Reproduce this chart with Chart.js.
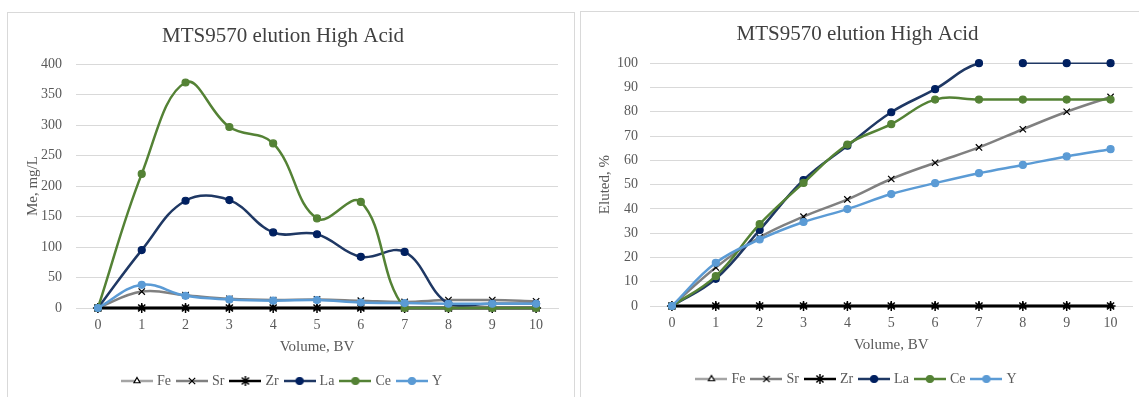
<!DOCTYPE html>
<html>
<head>
<meta charset="utf-8">
<script src="https://cdn.jsdelivr.net/npm/chart.js@4.4.1/dist/chart.umd.min.js"></script>
<style>
  body { margin: 0; background: #fff; width: 1139px; height: 397px; overflow: hidden; position: relative; }
  .panel { position: absolute; border: 1px solid #d9d9d9; background: #fff; }
  #left { left: 7px; top: 12px; width: 566px; height: 400px; }
  #right { left: 580px; top: 11px; width: 600px; height: 400px; }
  canvas { display: block; }
</style>
</head>
<body>
<div class="panel" id="left"><canvas id="conc" width="566" height="390"></canvas></div>
<div class="panel" id="right"><canvas id="eluted" width="558" height="389"></canvas></div>
<script>
const volumeBV = ["0", "1", "2", "3", "4", "5", "6", "7", "8", "9", "10"];
const metals = ["Fe", "Sr", "Zr", "La", "Ce", "Y"];

// Me, mg/L
const concFe = [0, 0, 0, 0, 0, 0, 0, 0, 0, 0, 0];
const concSr = [0, 27, 21, 15, 13, 14, 12, 10, 13, 13, 11];
const concZr = [0, 0, 0, 0, 0, 0, 0, 0, 0, 0, 0];
const concLa = [0, 95, 176, 177, 124, 121, 84, 92, 7, 7, 7];
const concCe = [0, 220, 370, 297, 270, 147, 174, 0, 0, 0, 0];
const concY = [0, 38, 20, 14, 12, 13, 9, 8, 7, 7, 7];

// Eluted, %
const elutedFe = [0, 0, 0, 0, 0, 0, 0, 0, 0, 0, 0];
const elutedSr = [0, 15.9, 28.3, 36.8, 43.9, 52.3, 59, 65.3, 72.8, 80, 86.1];
const elutedZr = [0, 0, 0, 0, 0, 0, 0, 0, 0, 0, 0];
const elutedLa = [0, 11.2, 31.3, 51.9, 66, 79.8, 89.3, 100, 100, 100, 100];
const elutedCe = [0, 12.3, 33.7, 50.7, 66.5, 74.9, 85, 85, 85, 85, 85];
const elutedY = [0, 17.8, 27.4, 34.6, 39.9, 46.1, 50.6, 54.7, 58.1, 61.6, 64.6];

const concTicks = { min: 0, max: 400, step: 50 };
const elutedTicks = { min: 0, max: 100, step: 10 };

const FONT = "'Liberation Serif', 'Times New Roman', serif";
const TEXT = "#595959";

const looks = {
  Fe: { line: "#a5a5a5", style: "triangle", edge: "#000000", fill: "#ffffff", r: 3.5, w: 1.2 },
  Sr: { line: "#808080", style: "crossRot", edge: "#000000", fill: "#000000", r: 4.5, w: 1.2 },
  Zr: { line: "#000000", style: "star", edge: "#000000", fill: "#000000", r: 5, w: 1.5 },
  La: { line: "#1f3864", style: "circle", edge: "#002060", fill: "#002060", r: 3.5, w: 1.2 },
  Ce: { line: "#548235", style: "circle", edge: "#548235", fill: "#548235", r: 3.5, w: 1.2 },
  Y:  { line: "#5b9bd5", style: "circle", edge: "#5b9bd5", fill: "#5b9bd5", r: 3.5, w: 1.2 }
};

function legendIcon(look) {
  const c = document.createElement("canvas");
  c.width = 32; c.height = 12;
  const ctx = c.getContext("2d");
  ctx.strokeStyle = look.line;
  ctx.lineWidth = 2.5;
  ctx.beginPath(); ctx.moveTo(0, 6); ctx.lineTo(32, 6); ctx.stroke();
  ctx.strokeStyle = look.edge;
  ctx.fillStyle = look.fill;
  ctx.lineWidth = look.w;
  Chart.helpers.drawPoint(ctx, { pointStyle: look.style, radius: look.r, rotation: 0, borderWidth: look.w }, 16, 6);
  return c;
}

function makeDatasets(values, laSegment) {
  return metals.map((name, i) => {
    const look = looks[name];
    const ds = {
      label: name,
      data: values[i],
      borderColor: look.line,
      backgroundColor: look.fill,
      borderWidth: name === "Zr" ? 3 : 2.5,
      pointStyle: look.style,
      pointRadius: look.r,
      pointHoverRadius: look.r,
      pointBorderColor: look.edge,
      pointBackgroundColor: look.fill,
      pointBorderWidth: look.w,
      tension: 0.4,
      clip: 8,
      order: metals.length - i,
      icon: legendIcon(look)
    };
    if (name === "La" && laSegment) ds.segment = laSegment;
    return ds;
  });
}

function makeOptions(yTitle, ticks, dims) {
  return {
    responsive: false,
    animation: false,
    layout: { padding: { left: 0, right: dims.padRight, top: 0, bottom: 5 } },
    plugins: {
      tooltip: { enabled: false },
      title: {
        display: true,
        text: "MTS9570 elution High Acid",
        color: "#404040",
        font: { family: FONT, size: 21, weight: "normal" },
        padding: { top: dims.titleTop, bottom: dims.titleBottom }
      },
      legend: {
        position: "bottom",
        labels: {
          usePointStyle: true,
          pointStyleWidth: 26,
          boxHeight: 12,
          padding: 8,
          color: TEXT,
          font: { family: FONT, size: 14 },
          generateLabels: (chart) => chart.data.datasets.map((ds, i) => ({
            text: ds.label,
            pointStyle: ds.icon,
            datasetIndex: i,
            fontColor: TEXT,
            hidden: false,
            lineWidth: 0,
            strokeStyle: "transparent",
            fillStyle: "transparent"
          }))
        }
      }
    },
    scales: {
      x: {
        offset: true,
        grid: { display: false, drawTicks: false },
        border: { color: "#d9d9d9" },
        ticks: { color: TEXT, padding: 9, font: { family: FONT, size: 14 } },
        title: { display: true, text: "Volume, BV", color: TEXT, font: { family: FONT, size: 15 }, padding: { top: 0, bottom: 10 } },
        afterFit: (s) => { s.height = 58; }
      },
      y: {
        min: ticks.min,
        max: ticks.max,
        grid: { color: "#d9d9d9", lineWidth: 1, drawTicks: false },
        border: { display: false },
        ticks: { stepSize: ticks.step, color: TEXT, padding: dims.tickPad, font: { family: FONT, size: 14 } },
        title: { display: true, text: yTitle, color: TEXT, font: { family: FONT, size: 15 }, padding: { top: dims.yTitlePad, bottom: 0 } },
        afterFit: (s) => { s.width = dims.yWidth; }
      }
    }
  };
}

new Chart(document.getElementById("conc"), {
  type: "line",
  data: {
    labels: volumeBV,
    datasets: makeDatasets([concFe, concSr, concZr, concLa, concCe, concY])
  },
  options: makeOptions("Me, mg/L", concTicks, { padRight: 16, titleTop: 11, titleBottom: 15, tickPad: 14, yTitlePad: 16, yWidth: 68 })
});

new Chart(document.getElementById("eluted"), {
  type: "line",
  data: {
    labels: volumeBV,
    datasets: makeDatasets([elutedFe, elutedSr, elutedZr, elutedLa, elutedCe, elutedY], {
      borderColor: (ctx) => (ctx.p0DataIndex === 7 ? "transparent" : undefined),
      borderWidth: (ctx) => (ctx.p0DataIndex >= 8 ? 1.5 : undefined)
    })
  },
  options: makeOptions("Eluted, %", elutedTicks, { padRight: 5, titleTop: 10, titleBottom: 16, tickPad: 12, yTitlePad: 15, yWidth: 69 })
});
</script>
</body>
</html>
